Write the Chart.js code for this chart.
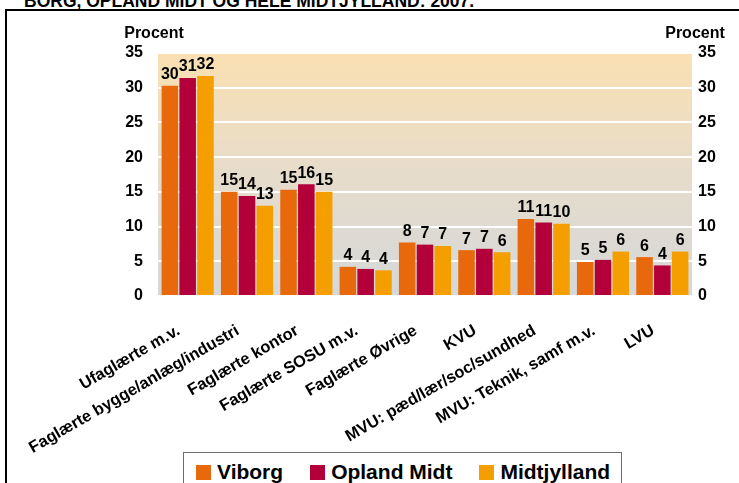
<!DOCTYPE html>
<html>
<head>
<meta charset="utf-8">
<script src="https://cdn.jsdelivr.net/npm/chart.js@4.4.1/dist/chart.umd.min.js"></script>
<style>
  html, body { margin: 0; padding: 0; background: #fff; width: 739px; height: 483px; overflow: hidden; position: relative; font-family: "Liberation Sans", Arial, sans-serif; }
  #frame { position: absolute; left: 5px; top: 9px; width: 760px; height: 500px; border-left: 2px solid #000; border-top: 2px solid #000; pointer-events: none; z-index: 5; }
  #title { position: absolute; left: 24px; top: -8px; font: bold 17.5px "Liberation Sans", Arial, sans-serif; line-height: 18px; white-space: nowrap; color: #000; }
  #c { position: absolute; left: 0; top: 0; }
  #legend { position: absolute; left: 183px; top: 452px; width: 439px; height: 40px; border: 1px solid #6d6d6d; background: #fff; display: flex; align-items: flex-start; padding-left: 12px; box-sizing: border-box; white-space: nowrap; }
  .item { display: flex; align-items: center; margin-right: 27px; margin-top: 7px; font: bold 21px "Liberation Sans", Arial, sans-serif; color: #000; line-height: 24px; white-space: nowrap; flex: none; }
  .sw { width: 15px; height: 15px; margin-right: 6px; flex: none; }
</style>
</head>
<body>
<div id="title">BORG, OPLAND MIDT OG HELE MIDTJYLLAND: 2007.</div>
<canvas id="c" width="739" height="483"></canvas>
<div id="frame"></div>
<div id="legend"></div>
<script>
const categories = [
  "Ufaglærte m.v.",
  "Faglærte bygge/anlæg/industri",
  "Faglærte kontor",
  "Faglærte SOSU m.v.",
  "Faglærte Øvrige",
  "KVU",
  "MVU: pæd/lær/soc/sundhed",
  "MVU: Teknik, samf m.v.",
  "LVU"
];
const seriesNames = ["Viborg", "Opland Midt", "Midtjylland"];
const viborg      = [30.3, 15.0, 15.3, 4.2, 7.7, 6.6, 11.1, 4.9, 5.6];
const oplandMidt  = [31.4, 14.4, 16.1, 3.9, 7.4, 6.8, 10.6, 5.2, 4.4];
const midtjylland = [31.7, 13.0, 15.0, 3.7, 7.2, 6.3, 10.4, 6.4, 6.4];
const seriesColors = ["#E8690B", "#B3003A", "#F59E00"];
const yTicks = [0, 5, 10, 15, 20, 25, 30, 35];
const axisTitle = "Procent";

const seriesValues = [viborg, oplandMidt, midtjylland];

// HTML legend
const lg = document.getElementById('legend');
seriesNames.forEach((n, i) => {
  const it = document.createElement('div'); it.className = 'item';
  const sw = document.createElement('div'); sw.className = 'sw'; sw.style.background = seriesColors[i];
  const tx = document.createElement('span'); tx.textContent = n;
  it.appendChild(sw); it.appendChild(tx); lg.appendChild(it);
});

const bgPlugin = {
  id: 'bg',
  beforeDraw(chart) {
    const {ctx, chartArea: a} = chart;
    const g = ctx.createLinearGradient(0, a.top, 0, a.bottom);
    g.addColorStop(0, '#FAE0B2');
    g.addColorStop(0.5, '#E6DCCB');
    g.addColorStop(1, '#D5D8D9');
    ctx.save();
    ctx.fillStyle = g;
    ctx.fillRect(a.left, a.top, a.right - a.left, a.bottom - a.top + 1);
    ctx.restore();
  }
};

const labelPlugin = {
  id: 'vals',
  afterDatasetsDraw(chart) {
    const ctx = chart.ctx;
    ctx.save();
    ctx.font = 'bold 16px "Liberation Sans", Arial, sans-serif';
    ctx.fillStyle = '#000';
    ctx.textAlign = 'center';
    ctx.textBaseline = 'bottom';
    chart.data.datasets.forEach((ds, di) => {
      const meta = chart.getDatasetMeta(di);
      meta.data.forEach((bar, i) => {
        ctx.fillText(String(Math.round(ds.data[i])), bar.x, bar.y - 3);
      });
    });
    ctx.restore();
  },
  afterDraw(chart) {
    const ctx = chart.ctx, a = chart.chartArea;
    ctx.save();
    ctx.font = 'bold 16px "Liberation Sans", Arial, sans-serif';
    ctx.fillStyle = '#000';
    ctx.textAlign = 'center';
    ctx.textBaseline = 'alphabetic';
    ctx.fillText(axisTitle, a.left - 4, 38);
    ctx.fillText(axisTitle, a.right + 3, 38);
    ctx.restore();
  }
};

const tickFont = { family: '"Liberation Sans", Arial, sans-serif', size: 16, weight: 'bold' };

new Chart(document.getElementById('c'), {
  type: 'bar',
  data: {
    labels: categories,
    datasets: seriesNames.map((n, i) => ({
      label: n,
      data: seriesValues[i],
      backgroundColor: seriesColors[i],
      borderWidth: 0,
      categoryPercentage: 0.9,
      barPercentage: 0.93,
      yAxisID: 'y'
    }))
  },
  options: {
    responsive: false,
    animation: false,
    devicePixelRatio: 1,
    layout: { padding: { top: 53, left: 0, right: 0, bottom: 0 } },
    plugins: { legend: { display: false }, tooltip: { enabled: false }, title: { display: false } },
    scales: {
      x: {
        position: 'bottom',
        grid: { display: false, drawTicks: false },
        border: { display: false },
        ticks: { autoSkip: false, maxRotation: 30, minRotation: 30, font: { family: '"Liberation Sans", Arial, sans-serif', size: 16.4, weight: 'bold' }, color: '#000', padding: 25, labelOffset: -9 },
        afterFit(s) { s.height = 187; }
      },
      y: {
        position: 'left',
        min: 0, max: 35,
        afterBuildTicks(s) { s.ticks = yTicks.map(v => ({ value: v })); },
        grid: { color: '#ffffff', lineWidth: 2, drawTicks: false },
        border: { display: false },
        ticks: { font: tickFont, color: '#000', padding: 15 },
        afterFit(s) { s.width = 158; }
      },
      y2: {
        position: 'right',
        min: 0, max: 35,
        afterBuildTicks(s) { s.ticks = yTicks.map(v => ({ value: v })); },
        grid: { display: false, drawTicks: false },
        border: { display: false },
        ticks: { font: tickFont, color: '#000', padding: 6 },
        afterFit(s) { s.width = 47; }
      }
    }
  },
  plugins: [bgPlugin, labelPlugin]
});
</script>
</body>
</html>
